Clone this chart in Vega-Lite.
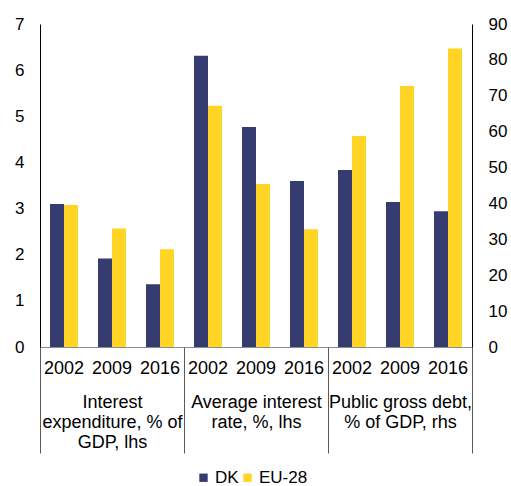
{
  "$schema": "https://vega.github.io/schema/vega-lite/v6.json",
  "width": 432,
  "height": 323,
  "autosize": {"type": "none"},
  "padding": {"left": 40, "top": 24, "right": 39, "bottom": 139},
  "background": "white",
  "config": {
    "view": {"stroke": null},
    "font": "Liberation Sans",
    "axis": {"labelFont": "Liberation Sans", "labelColor": "#000000", "grid": false},
    "legend": {"labelFont": "Liberation Sans", "labelColor": "#000000"}
  },
  "datasets": {
    "lhs": [
      {"group": "IE|2002", "series": "DK", "value": 3.10},
      {"group": "IE|2002", "series": "EU-28", "value": 3.08},
      {"group": "IE|2009", "series": "DK", "value": 1.92},
      {"group": "IE|2009", "series": "EU-28", "value": 2.57},
      {"group": "IE|2016", "series": "DK", "value": 1.36},
      {"group": "IE|2016", "series": "EU-28", "value": 2.12},
      {"group": "AIR|2002", "series": "DK", "value": 6.31},
      {"group": "AIR|2002", "series": "EU-28", "value": 5.23},
      {"group": "AIR|2009", "series": "DK", "value": 4.77},
      {"group": "AIR|2009", "series": "EU-28", "value": 3.53},
      {"group": "AIR|2016", "series": "DK", "value": 3.60},
      {"group": "AIR|2016", "series": "EU-28", "value": 2.55}
    ],
    "rhs": [
      {"group": "PGD|2002", "series": "DK", "value": 49.3},
      {"group": "PGD|2002", "series": "EU-28", "value": 58.8},
      {"group": "PGD|2009", "series": "DK", "value": 40.4},
      {"group": "PGD|2009", "series": "EU-28", "value": 72.7},
      {"group": "PGD|2016", "series": "DK", "value": 37.8},
      {"group": "PGD|2016", "series": "EU-28", "value": 83.2}
    ]
  },
  "layer": [
    {
      "data": {"name": "lhs"},
      "mark": {"type": "bar"},
      "encoding": {
        "x": {
          "field": "group",
          "type": "nominal",
          "scale": {"domain": ["IE|2002", "IE|2009", "IE|2016", "AIR|2002", "AIR|2009", "AIR|2016", "PGD|2002", "PGD|2009", "PGD|2016"], "paddingInner": 0, "paddingOuter": 0},
          "axis": {
            "orient": "bottom",
            "title": null,
            "ticks": false,
            "domainColor": "#8c8c8c",
            "labelExpr": "split(datum.value, '|')[1]",
            "labelFontSize": 18,
            "labelPadding": 12,
            "labelAngle": 0,
            "labelBaseline": "top",
            "labelOverlap": false
          }
        },
        "xOffset": {"field": "series", "type": "nominal", "scale": {"domain": ["DK", "EU-28"], "paddingInner": 0, "paddingOuter": 0.714}},
        "y": {
          "field": "value",
          "type": "quantitative",
          "scale": {"domain": [0, 7], "nice": false},
          "axis": {"orient": "left", "title": null, "values": [0, 1, 2, 3, 4, 5, 6, 7], "ticks": false, "domainColor": "#000000", "labelFontSize": 17, "labelPadding": 16}
        },
        "color": {
          "field": "series",
          "type": "nominal",
          "scale": {"domain": ["DK", "EU-28"], "range": ["#363b70", "#ffd424"]},
          "legend": {"orient": "none", "legendX": 155, "legendY": 445, "padding": 0, "direction": "horizontal", "title": null, "symbolType": "square", "symbolSize": 70, "symbolStrokeWidth": 0, "labelFontSize": 17, "columnPadding": 0, "labelOffset": 3}
        }
      }
    },
    {
      "data": {"name": "rhs"},
      "mark": {"type": "bar"},
      "encoding": {
        "x": {
          "field": "group",
          "type": "nominal",
          "scale": {"domain": ["IE|2002", "IE|2009", "IE|2016", "AIR|2002", "AIR|2009", "AIR|2016", "PGD|2002", "PGD|2009", "PGD|2016"], "paddingInner": 0, "paddingOuter": 0},
          "axis": {
            "orient": "bottom",
            "title": null,
            "domain": false,
            "tickBand": "extent",
            "tickSize": 106,
            "tickColor": "#595959",
            "tickOpacity": {"condition": {"test": "datum.extra || datum.value === 'IE|2016' || datum.value === 'AIR|2016' || datum.value === 'PGD|2016'", "value": 1}, "value": 0},
            "labelExpr": "datum.value === 'IE|2009' ? ['Interest', 'expenditure, % of', 'GDP, lhs'] : datum.value === 'AIR|2009' ? ['Average interest', 'rate, %, lhs'] : datum.value === 'PGD|2009' ? ['Public gross debt,', '% of GDP, rhs'] : ''",
            "labelFontSize": 18,
            "labelPadding": -60,
            "labelLineHeight": 20,
            "labelBaseline": "top",
            "labelAngle": 0,
            "labelOverlap": false,
            "labelLimit": 300
          }
        },
        "xOffset": {"field": "series", "type": "nominal", "scale": {"domain": ["DK", "EU-28"], "paddingInner": 0, "paddingOuter": 0.714}},
        "y": {
          "field": "value",
          "type": "quantitative",
          "scale": {"domain": [0, 90], "nice": false},
          "axis": {"orient": "right", "title": null, "values": [0, 10, 20, 30, 40, 50, 60, 70, 80, 90], "ticks": false, "domainColor": "#000000", "labelFontSize": 17, "labelPadding": 16}
        },
        "color": {"field": "series", "type": "nominal", "scale": {"domain": ["DK", "EU-28"], "range": ["#363b70", "#ffd424"]}}
      }
    }
  ],
  "resolve": {"scale": {"y": "independent"}, "axis": {"x": "independent", "y": "independent"}}
}
